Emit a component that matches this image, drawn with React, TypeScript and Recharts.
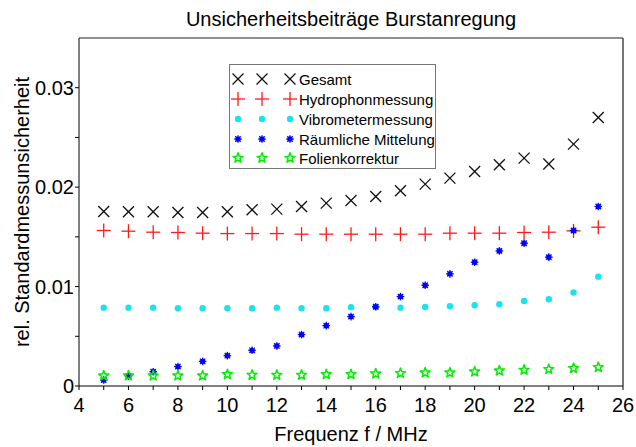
import React from 'react';
import { ScatterChart, Scatter, XAxis, YAxis, ReferenceLine } from 'recharts';

const freqs = [5, 6, 7, 8, 9, 10, 11, 12, 13, 14, 15, 16, 17, 18, 19, 20, 21, 22, 23, 24, 25];
const gesamt = [0.01755, 0.01752, 0.01752, 0.01745, 0.01745, 0.01752, 0.01772, 0.01779, 0.01805, 0.01839, 0.01866, 0.01906, 0.01963, 0.0203, 0.02091, 0.02158, 0.02225, 0.02292, 0.02232, 0.02433, 0.02701];
const hydrophon = [0.01564, 0.01557, 0.01547, 0.01544, 0.01537, 0.01533, 0.01533, 0.01533, 0.01527, 0.01527, 0.01527, 0.01527, 0.01527, 0.01527, 0.01537, 0.01537, 0.01537, 0.01544, 0.01547, 0.0156, 0.01597];
const vibrometer = [0.00788, 0.00788, 0.00788, 0.00782, 0.00782, 0.00782, 0.00782, 0.00788, 0.00782, 0.00782, 0.00792, 0.00795, 0.00788, 0.00795, 0.00802, 0.00812, 0.00822, 0.00856, 0.00873, 0.0094, 0.011];
const raeumlich = [0.0006, 0.001, 0.00144, 0.00195, 0.00248, 0.00305, 0.00359, 0.00403, 0.00517, 0.00607, 0.00698, 0.00797, 0.00899, 0.01013, 0.01128, 0.01245, 0.01359, 0.01436, 0.01296, 0.01564, 0.01805];
const folien = [0.00104, 0.00104, 0.00104, 0.00104, 0.00104, 0.00117, 0.0011, 0.0011, 0.0011, 0.00117, 0.00117, 0.00124, 0.00128, 0.00134, 0.00134, 0.00144, 0.00154, 0.00161, 0.00168, 0.00178, 0.00188];

const xTicks = [4, 5, 6, 7, 8, 9, 10, 11, 12, 13, 14, 15, 16, 17, 18, 19, 20, 21, 22, 23, 24, 25, 26];
const yTicks = [0, 0.005, 0.01, 0.015, 0.02, 0.025, 0.03];

const seriesNames = ['Gesamt', 'Hydrophonmessung', 'Vibrometermessung', 'Räumliche Mittelung', 'Folienkorrektur'];
const title = 'Unsicherheitsbeiträge Burstanregung';
const xLabel = 'Frequenz f / MHz';
const yLabel = 'rel. Standardmessunsicherheit';

const toPoints = (vals: number[]) => freqs.map((f, i) => ({ x: f, y: vals[i] }));

const FONT = '"Liberation Sans", Arial, sans-serif';
const C_BLACK = '#111111';
const C_RED = '#ff1a1a';
const C_CYAN = '#19e3f0';
const C_BLUE = '#0000ff';
const C_GREEN = '#00ee00';

const XMark = ({ cx, cy }: any) => {
  const h = 5.5;
  return (
    <g stroke={C_BLACK} strokeWidth={1.3}>
      <line x1={cx - h} y1={cy - h} x2={cx + h} y2={cy + h} />
      <line x1={cx - h} y1={cy + h} x2={cx + h} y2={cy - h} />
    </g>
  );
};
const PlusMark = ({ cx, cy }: any) => {
  const h = 7;
  return (
    <g stroke={C_RED} strokeWidth={1.3}>
      <line x1={cx - h} y1={cy} x2={cx + h} y2={cy} />
      <line x1={cx} y1={cy - h} x2={cx} y2={cy + h} />
    </g>
  );
};
const DotMark = ({ cx, cy }: any) => <circle cx={cx} cy={cy} r={3.2} fill={C_CYAN} />;
const AstMark = ({ cx, cy }: any) => {
  const h = 3.8;
  const d = 2.7;
  return (
    <g stroke={C_BLUE} strokeWidth={1.3}>
      <circle cx={cx} cy={cy} r={2.6} fill={C_BLUE} stroke="none" />
      <line x1={cx - h} y1={cy} x2={cx + h} y2={cy} />
      <line x1={cx} y1={cy - h} x2={cx} y2={cy + h} />
      <line x1={cx - d} y1={cy - d} x2={cx + d} y2={cy + d} />
      <line x1={cx - d} y1={cy + d} x2={cx + d} y2={cy - d} />
    </g>
  );
};
const StarMark = ({ cx, cy }: any) => {
  const R = 5.2;
  const r = 2.1;
  const pts: string[] = [];
  for (let i = 0; i < 10; i++) {
    const a = -Math.PI / 2 + (i * Math.PI) / 5;
    const rad = i % 2 === 0 ? R : r;
    pts.push(`${cx + rad * Math.cos(a)},${cy + rad * Math.sin(a)}`);
  }
  return <polygon points={pts.join(' ')} fill="none" stroke={C_GREEN} strokeWidth={1.5} strokeLinejoin="round" />;
};

const markers = [XMark, PlusMark, DotMark, AstMark, StarMark];

const fmtX = (v: number) => (v % 2 === 0 ? String(v) : '');
const fmtY = (v: number) => {
  const k = Math.round(v * 1000);
  if (k % 10 !== 0) return '';
  if (k === 0) return '0';
  return (k / 1000).toFixed(2);
};

export default function App() {
  const legendX = [238, 262, 290];
  const legendRows = [79, 99, 119, 139, 158];
  return (
    <div style={{ position: 'absolute', left: 0, top: 0, width: 636, height: 447, background: '#fff', fontFamily: FONT }}>
      <ScatterChart width={636} height={447} margin={{ top: 38, right: 13, bottom: 31, left: 0 }}>
        <XAxis
          type="number"
          dataKey="x"
          domain={[4, 26]}
          ticks={xTicks}
          tickFormatter={fmtX}
          interval={0}
          height={30}
          tickSize={4}
          tickMargin={8}
          stroke="#000"
          tick={{ fill: '#000', fontSize: 20, fontFamily: FONT }}
          allowDecimals
        />
        <YAxis
          type="number"
          dataKey="y"
          domain={[0, 0.035]}
          ticks={yTicks}
          tickFormatter={fmtY}
          interval={0}
          width={79}
          tickSize={4}
          tickMargin={1}
          stroke="#000"
          tick={{ fill: '#000', fontSize: 20, fontFamily: FONT }}
        />
        <ReferenceLine y={0.035} stroke="#222" strokeWidth={1.2} ifOverflow="extendDomain" />
        <ReferenceLine x={26} stroke="#555" strokeWidth={1.6} ifOverflow="extendDomain" />
        <Scatter data={toPoints(gesamt)} shape={(p: any) => <XMark cx={p.cx} cy={p.cy} />} isAnimationActive={false} />
        <Scatter data={toPoints(hydrophon)} shape={(p: any) => <PlusMark cx={p.cx} cy={p.cy} />} isAnimationActive={false} />
        <Scatter data={toPoints(vibrometer)} shape={(p: any) => <DotMark cx={p.cx} cy={p.cy} />} isAnimationActive={false} />
        <Scatter data={toPoints(raeumlich)} shape={(p: any) => <AstMark cx={p.cx} cy={p.cy} />} isAnimationActive={false} />
        <Scatter data={toPoints(folien)} shape={(p: any) => <StarMark cx={p.cx} cy={p.cy} />} isAnimationActive={false} />
      </ScatterChart>
      <svg width={636} height={447} style={{ position: 'absolute', left: 0, top: 0, pointerEvents: 'none' }}>
        <text x={351} y={26} textAnchor="middle" fontSize={20} fontFamily={FONT} fill="#000">{title}</text>
        <text x={351} y={441} textAnchor="middle" fontSize={20} fontFamily={FONT} fill="#000">{xLabel}</text>
        <text
          x={0}
          y={0}
          transform="translate(29,212) rotate(-90)"
          textAnchor="middle"
          fontSize={20}
          fontFamily={FONT}
          fill="#000"
        >
          {yLabel}
        </text>
        <rect x={229.5} y={64.5} width={206} height={104} fill="#fff" stroke="#777" strokeWidth={1} />
        {seriesNames.map((name, i) => {
          const M = markers[i];
          const cy = legendRows[i];
          return (
            <g key={name}>
              {legendX.map((cx) => (
                <M key={cx} cx={cx} cy={cy} />
              ))}
              <text x={299} y={cy + 5.5} fontSize={15} fontFamily={FONT} fill="#000">{name}</text>
            </g>
          );
        })}
      </svg>
    </div>
  );
}
